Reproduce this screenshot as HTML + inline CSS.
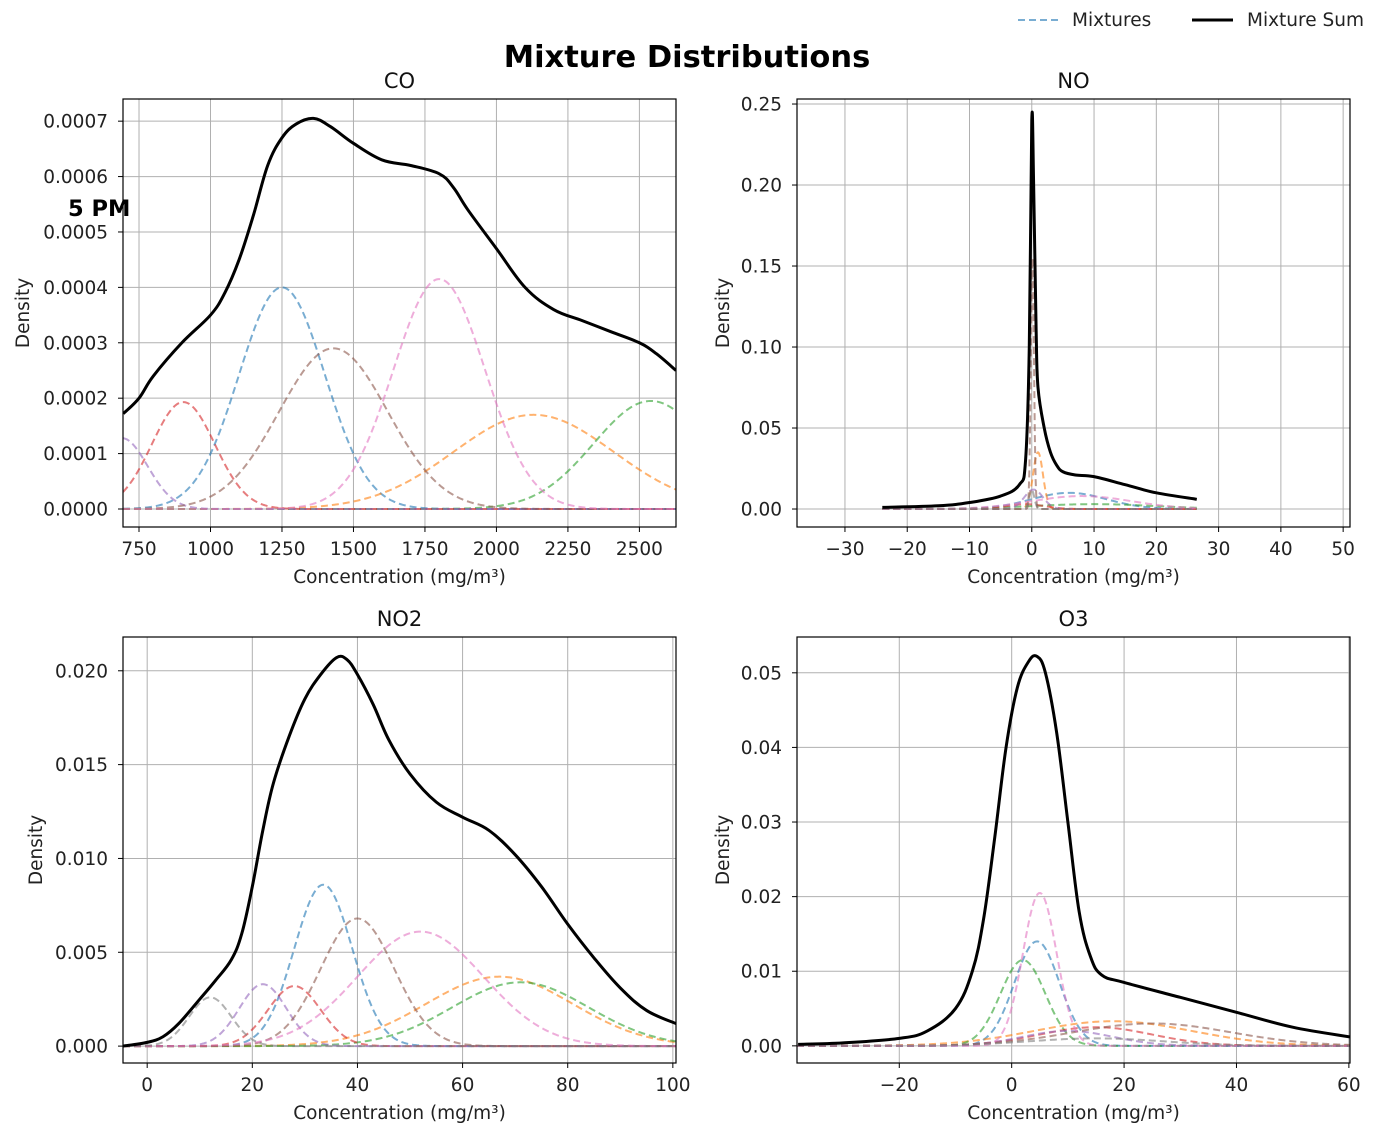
<!DOCTYPE html>
<html><head><meta charset="utf-8"><style>
html,body{margin:0;padding:0;background:#fff;}
svg{display:block;font-family:"DejaVu Sans","Liberation Sans",sans-serif;}
</style></head><body>
<svg id="fig" width="1384" height="1134" viewBox="0 0 1384 1134" xmlns="http://www.w3.org/2000/svg">
<text x="687" y="67" text-anchor="middle" font-size="30.5" font-weight="bold">Mixture Distributions</text>
<text x="68" y="216" font-size="22.5" font-weight="bold">5 PM</text>
<g>
<line x1="1018" y1="20" x2="1058" y2="20" stroke="#1f77b4" stroke-opacity="0.6" stroke-width="2" stroke-dasharray="7,4"/>
<text x="1072" y="26" font-size="18.5" fill="#222">Mixtures</text>
<line x1="1192" y1="20" x2="1233" y2="20" stroke="#000" stroke-width="3"/>
<text x="1247" y="26" font-size="18.5" fill="#222">Mixture Sum</text>
</g>
</svg>
<script>
const colors=["#1f77b4","#ff7f0e","#2ca02c","#d62728","#9467bd","#8c564b","#e377c2","#7f7f7f"];
// CO
const coMeans=[1250,2130,2540,905,690,1430,1800];
const coSds=[150,280,200,110,90,190,160];
const coPeaks=[0.0004,0.00017,0.000195,0.000193,0.000128,0.00029,0.000415];
const coSumX=[695,750,800,900,1000,1050,1100,1150,1200,1250,1300,1360,1420,1500,1600,1700,1800,1850,1900,2000,2100,2200,2300,2400,2500,2560,2628];
const coSumY=[0.000172,0.0002,0.00024,0.0003,0.00035,0.00039,0.00045,0.00053,0.00062,0.00067,0.000695,0.000705,0.00069,0.00066,0.00063,0.00062,0.000605,0.00058,0.00054,0.00047,0.0004,0.00036,0.00034,0.00032,0.0003,0.00028,0.00025];
const coXTicks=[750,1000,1250,1500,1750,2000,2250,2500];
const coYTicks=["0.0000","0.0001","0.0002","0.0003","0.0004","0.0005","0.0006","0.0007"];
// NO
const noMeans=[6,1,10,-1,0.3,0.1,8,0];
const noSds=[6,0.8,10,3,1.5,0.25,8,0.4];
const noPeaks=[0.01,0.035,0.003,0.003,0.012,0.155,0.008,0.012];
const noSumX=[-24,-15,-10,-5,-2,-1,-0.4,0,0.3,0.7,1,2,3,4,5,7,10,15,20,26.5];
const noSumY=[0.001,0.002,0.004,0.008,0.015,0.03,0.1,0.24,0.2,0.11,0.075,0.05,0.035,0.027,0.023,0.021,0.02,0.015,0.01,0.006];
const noXTicks=[-30,-20,-10,0,10,20,30,40,50];
const noYTicks=["0.00","0.05","0.10","0.15","0.20","0.25"];
// NO2
const no2Means=[33.5,67,71,28,22,40,52,12];
const no2Sds=[5.5,14,13,5,4.5,7,12,4];
const no2Peaks=[0.0086,0.0037,0.0034,0.0032,0.0033,0.0068,0.0061,0.0026];
const no2SumX=[-4.6,0,3,6,10,13,16,18,20,22,24,27,30,33,36,38,40,43,46,50,55,60,65,70,75,80,85,90,95,100.6];
const no2SumY=[0,0.0002,0.0005,0.0012,0.0025,0.0035,0.0046,0.006,0.0085,0.0115,0.014,0.0165,0.0185,0.0198,0.0207,0.0206,0.0198,0.0182,0.0163,0.0145,0.013,0.0122,0.0115,0.0102,0.0085,0.0065,0.0047,0.0031,0.0019,0.0012];
const no2XTicks=[0,20,40,60,80,100];
const no2YTicks=["0.000","0.005","0.010","0.015","0.020"];
// O3
const o3Means=[4.5,18,2,15,10,25,5,15];
const o3Sds=[4,14,4,10,8,14,3,12];
const o3Peaks=[0.014,0.0033,0.0115,0.0025,0.002,0.003,0.0205,0.001];
const o3SumX=[-38,-30,-20,-15,-10,-7,-5,-3,-1,1,3,4.5,6,8,10,12,14,16,20,30,40,50,60.2];
const o3SumY=[0.0002,0.0004,0.001,0.002,0.005,0.01,0.017,0.028,0.04,0.048,0.0515,0.0522,0.05,0.042,0.03,0.018,0.012,0.0095,0.0085,0.0065,0.0045,0.0025,0.0012];
const o3XTicks=[-20,0,20,40,60];
const o3YTicks=["0.00","0.01","0.02","0.03","0.04","0.05"];

const NS="http://www.w3.org/2000/svg";
const fig=document.getElementById('fig');
function mk(tag,attrs,parent){const e=document.createElementNS(NS,tag);for(const k in attrs)e.setAttribute(k,attrs[k]);parent.appendChild(e);return e;}
function smooth(pts){
  let d='M'+pts[0][0].toFixed(2)+','+pts[0][1].toFixed(2);
  for(let i=0;i<pts.length-1;i++){
    const p0=pts[Math.max(0,i-1)],p1=pts[i],p2=pts[i+1],p3=pts[Math.min(pts.length-1,i+2)];
    const t=0.18;
    const c1=[p1[0]+(p2[0]-p0[0])*t,p1[1]+(p2[1]-p0[1])*t];
    const c2=[p2[0]-(p3[0]-p1[0])*t,p2[1]-(p3[1]-p1[1])*t];
    d+='C'+c1[0].toFixed(2)+','+c1[1].toFixed(2)+' '+c2[0].toFixed(2)+','+c2[1].toFixed(2)+' '+p2[0].toFixed(2)+','+p2[1].toFixed(2);
  }
  return d;
}
function panel(o){
  const g=mk('g',{},fig);
  
  
  const sx=v=>o.x0+(v-o.xmin)/(o.xmax-o.xmin)*(o.x1-o.x0);
  const sy=v=>o.y1-(v-o.ymin)/(o.ymax-o.ymin)*(o.y1-o.y0);
  const cid='clip-'+o.name;
  const cp=mk('clipPath',{id:cid},g);mk('rect',{x:o.x0,y:o.y0,width:o.x1-o.x0,height:o.y1-o.y0},cp);
  o.xt.forEach(t=>{const x=sx(t);
    const l=mk('line',{x1:x,x2:x,y1:o.y0,y2:o.y1,stroke:'#b0b0b0','stroke-width':1},g);
    
    mk('line',{x1:x,x2:x,y1:o.y1,y2:o.y1+5,stroke:'#000'},g);
    const tx=mk('text',{x:x,y:o.y1+28,'text-anchor':'middle','font-size':18.5,fill:'#222'},g);
    tx.textContent=(t<0?'\u2212'+(-t):String(t));
    
  });
  o.yt.forEach(s=>{const y=sy(parseFloat(s));
    const l=mk('line',{x1:o.x0,x2:o.x1,y1:y,y2:y,stroke:'#b0b0b0','stroke-width':1},g);
    
    mk('line',{x1:o.x0-5,x2:o.x0,y1:y,y2:y,stroke:'#000'},g);
    const tx=mk('text',{x:o.x0-15,y:y+6.5,'text-anchor':'end','font-size':18.5,fill:'#222'},g);
    tx.textContent=s;
    
  });
  const dg=mk('g',{'clip-path':'url(#'+cid+')'},g);
  const ca=o.cxmin!==undefined?o.cxmin:o.xmin, cb=o.cxmax!==undefined?o.cxmax:o.xmax;
  o.means.forEach((m,i)=>{
    let d='';const N=400;
    for(let k=0;k<=N;k++){const v=ca+(cb-ca)*k/N;const z=(v-m)/o.sds[i];const yv=o.peaks[i]*Math.exp(-0.5*z*z);d+=(k?'L':'M')+sx(v).toFixed(2)+','+sy(yv).toFixed(2);}
    const p=mk('path',{d:d,fill:'none',stroke:colors[i],'stroke-opacity':0.6,'stroke-width':2,'stroke-dasharray':'7,4'},dg);
    
    
  });
  const pts=o.sumX.map((v,i)=>[sx(v),sy(o.sumY[i])]);
  const p=mk('path',{d:smooth(pts),fill:'none',stroke:'#000','stroke-width':3,'stroke-linejoin':'round'},dg);
  
  
  const fr=mk('rect',{x:o.x0,y:o.y0,width:o.x1-o.x0,height:o.y1-o.y0,fill:'none',stroke:'#000','stroke-width':1.2},g);
  
  const t=mk('text',{x:(o.x0+o.x1)/2,y:o.y0-11,'text-anchor':'middle','font-size':21,fill:'#111'},g);
  t.textContent=o.title;
  const xl=mk('text',{x:(o.x0+o.x1)/2,y:o.y1+56,'text-anchor':'middle','font-size':18.5,fill:'#222'},g);
  xl.textContent='Concentration (mg/m\u00b3)';
  const yx=o.ylx, yy=(o.y0+o.y1)/2;
  const yl=mk('text',{x:yx,y:yy,'text-anchor':'middle','font-size':18.5,fill:'#222',transform:'rotate(-90 '+yx+' '+yy+')'},g);
  yl.textContent='Density';
}
panel({name:'co',title:'CO',x0:123,x1:676,y0:99,y1:527,xmin:694,xmax:2628,ymin:-0.0000325,ymax:0.00074,xt:coXTicks,yt:coYTicks,means:coMeans,sds:coSds,peaks:coPeaks,sumX:coSumX,sumY:coSumY,ylx:29});
panel({name:'no',title:'NO',x0:797,x1:1350,y0:99,y1:527,xmin:-37.7,xmax:51.1,ymin:-0.0111,ymax:0.2531,cxmin:-24,cxmax:26.5,xt:noXTicks,yt:noYTicks,means:noMeans,sds:noSds,peaks:noPeaks,sumX:noSumX,sumY:noSumY,ylx:729});
panel({name:'no2',title:'NO2',x0:123,x1:676,y0:637,y1:1063,xmin:-4.6,xmax:100.6,ymin:-0.0009,ymax:0.0218,xt:no2XTicks,yt:no2YTicks,means:no2Means,sds:no2Sds,peaks:no2Peaks,sumX:no2SumX,sumY:no2SumY,ylx:42});
panel({name:'o3',title:'O3',x0:797,x1:1350,y0:637,y1:1063,xmin:-38.2,xmax:60.2,ymin:-0.0023,ymax:0.0548,xt:o3XTicks,yt:o3YTicks,means:o3Means,sds:o3Sds,peaks:o3Peaks,sumX:o3SumX,sumY:o3SumY,ylx:729});
</script>
</body></html>
